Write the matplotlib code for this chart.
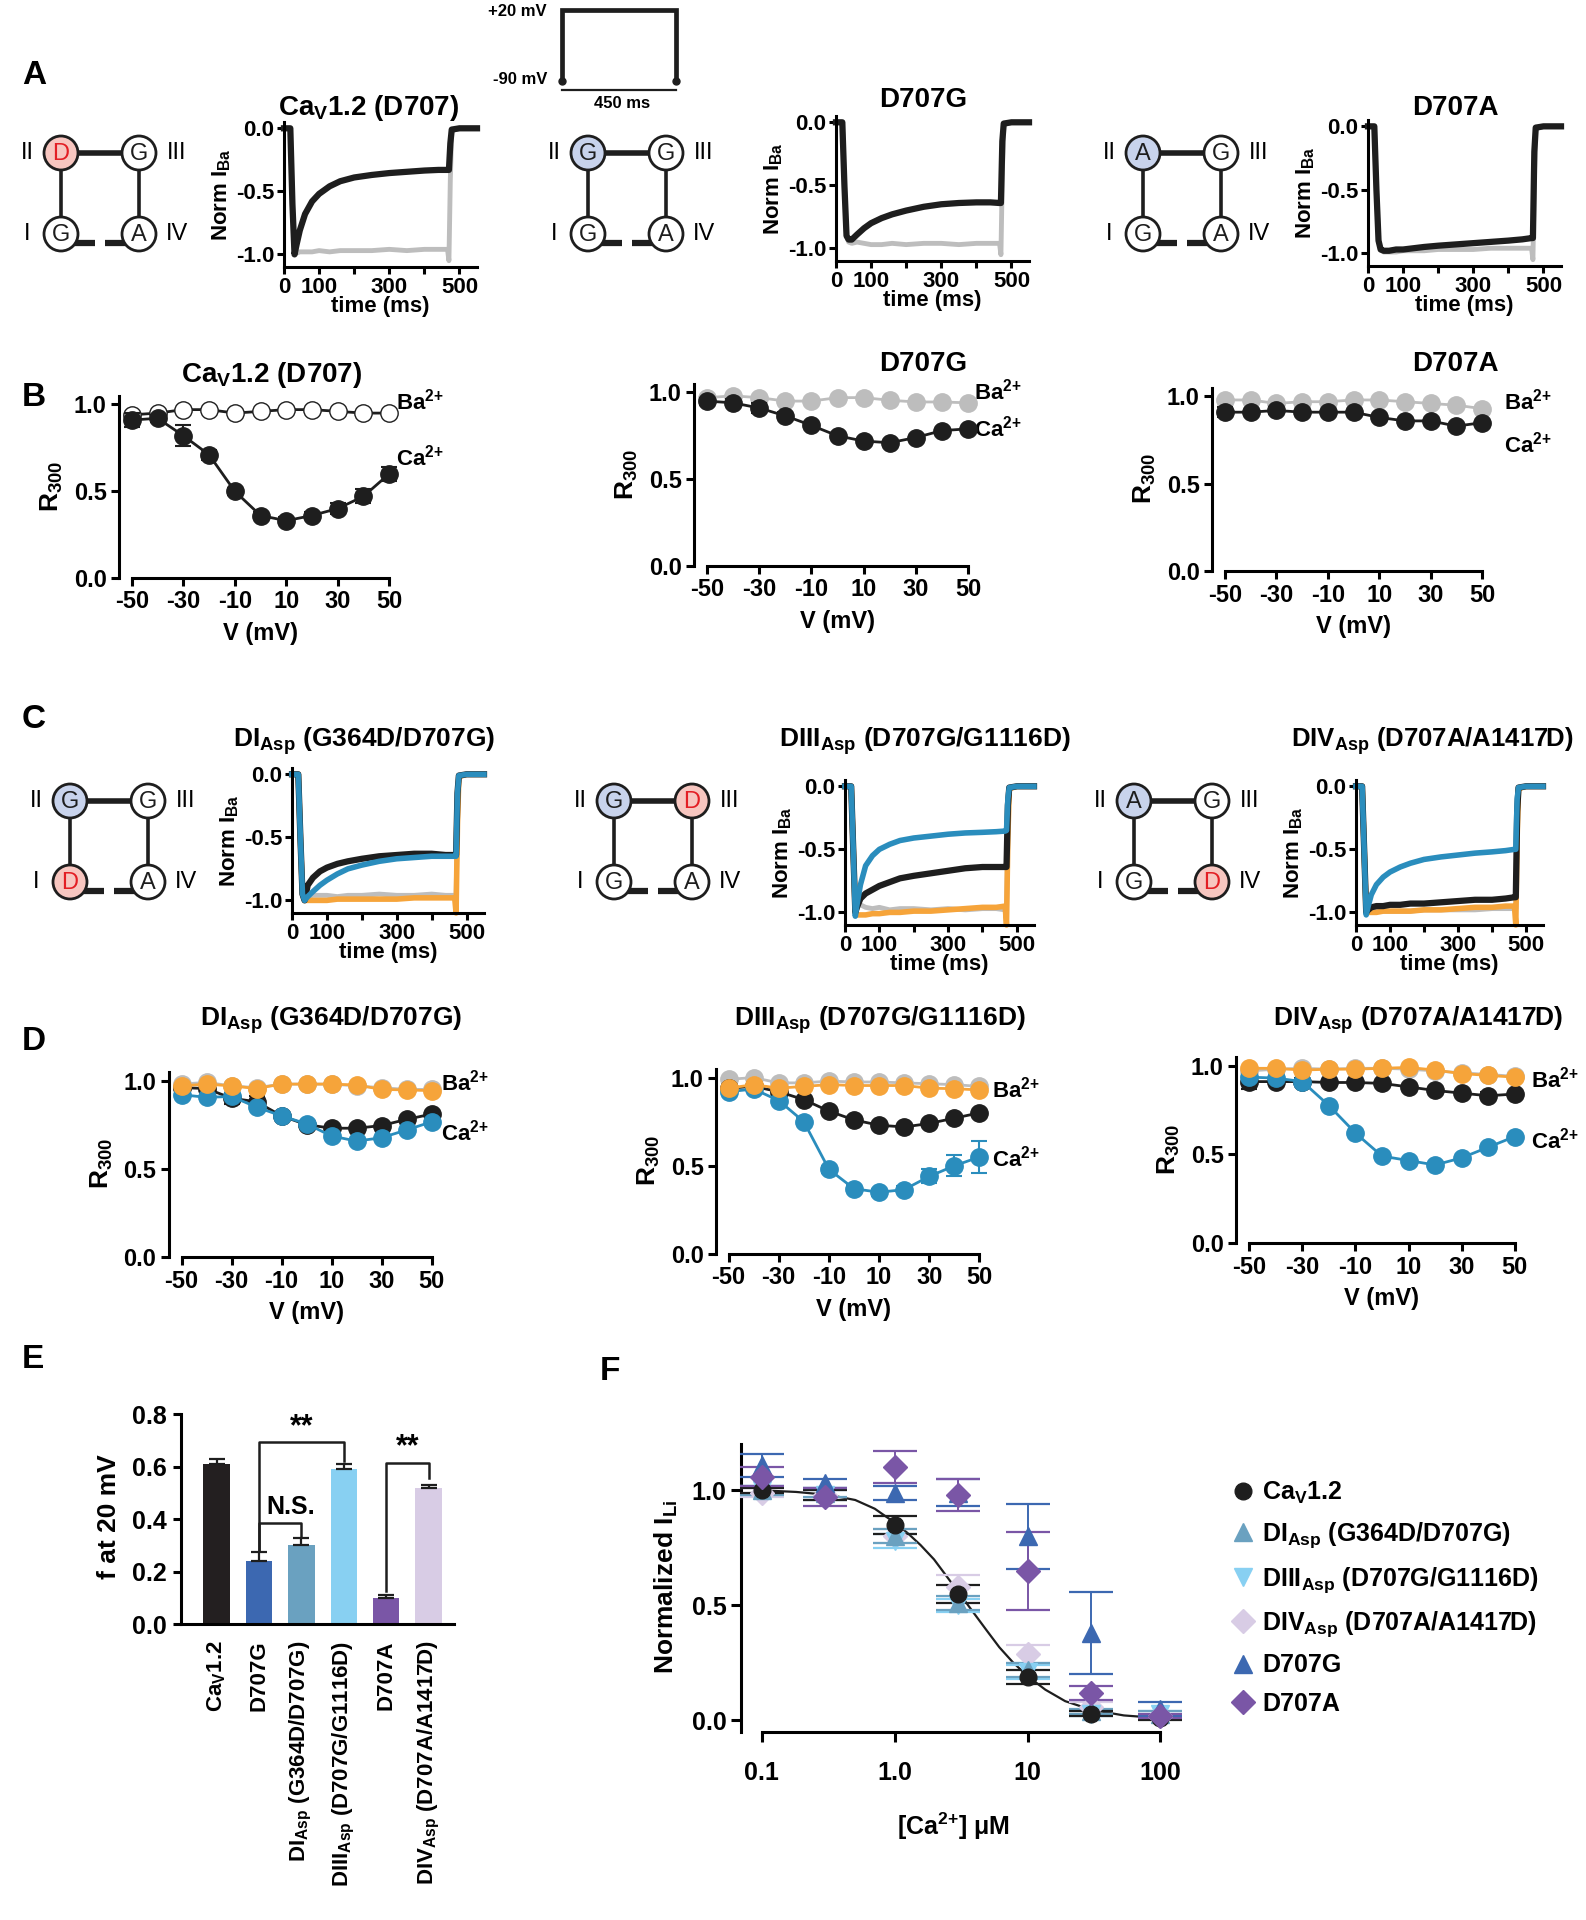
import matplotlib
matplotlib.use("Agg")
import matplotlib.pyplot as plt
from matplotlib.patches import Circle
from matplotlib.lines import Line2D
from matplotlib.ticker import NullLocator

NARROW = ['Liberation Sans Narrow', 'Liberation Sans', 'DejaVu Sans']
WIDE = ['Liberation Sans', 'DejaVu Sans']

plt.rcParams['font.family'] = NARROW
plt.rcParams['font.weight'] = 'bold'
plt.rcParams['axes.labelweight'] = 'bold'
plt.rcParams['mathtext.default'] = 'regular'
plt.rcParams['axes.linewidth'] = 2.2
plt.rcParams['xtick.major.width'] = 2.2
plt.rcParams['ytick.major.width'] = 2.2

BLACK = '#1e1e1e'
GREY = '#bdbdbd'
ORANGE = '#f6a43a'
TEAL = '#2a8dbd'
PINK = '#f7c6c0'
LILAC = '#c8d3ec'
RED = '#e31e24'

BA = r'Ba$^{2{+}}$'
CA = r'Ca$^{2{+}}$'

# ---------------- current traces (panels A and C) ----------------
t_ms = [0, 18, 24, 30, 36, 45, 60, 80, 100, 130, 160, 200, 250, 300, 350,
        400, 440, 466, 470, 474, 478, 500, 550]

a_wt_ca = [0, 0, -0.6, -1.0, -0.92, -0.81, -0.68, -0.58, -0.52, -0.46, -0.42, -0.39,
           -0.37, -0.355, -0.345, -0.335, -0.33, -0.33, -0.33, -0.12, -0.01, 0, 0]
a_wt_ba = [0, 0, -0.6, -1.0, -0.99, -0.98, -0.98, -0.98, -0.97, -0.98, -0.97, -0.97,
           -0.97, -0.96, -0.97, -0.96, -0.96, -0.96, -1.05, -0.4, -0.02, 0, 0]
a_g_ca = [0, 0, -0.5, -0.9, -0.93, -0.93, -0.89, -0.84, -0.80, -0.76, -0.73, -0.70,
          -0.67, -0.65, -0.64, -0.635, -0.635, -0.64, -0.64, -0.15, -0.01, 0, 0]
a_g_ba = [0, 0, -0.5, -0.9, -0.95, -0.96, -0.95, -0.96, -0.97, -0.97, -0.96, -0.97,
          -0.96, -0.96, -0.97, -0.96, -0.96, -0.96, -1.05, -0.4, -0.02, 0, 0]
a_a_ca = [0, 0, -0.5, -0.9, -0.97, -0.98, -0.98, -0.97, -0.97, -0.96, -0.95, -0.94,
          -0.93, -0.92, -0.91, -0.90, -0.89, -0.88, -0.88, -0.2, -0.01, 0, 0]
a_a_ba = [0, 0, -0.5, -0.9, -0.97, -0.99, -0.99, -0.99, -0.98, -0.98, -0.98, -0.97,
          -0.97, -0.97, -0.96, -0.96, -0.96, -0.96, -1.05, -0.4, -0.02, 0, 0]

c1_ref_ca = [0, 0, -0.5, -0.95, -1.0, -0.88, -0.82, -0.77, -0.74, -0.71, -0.69, -0.67,
             -0.65, -0.64, -0.63, -0.63, -0.64, -0.64, -0.64, -0.15, -0.01, 0, 0]
c1_mut_ca = [0, 0, -0.5, -0.95, -1.0, -0.97, -0.93, -0.88, -0.84, -0.79, -0.75, -0.72,
             -0.69, -0.67, -0.66, -0.65, -0.65, -0.65, -0.65, -0.15, -0.01, 0, 0]
c1_ref_ba = [0, 0, -0.5, -0.95, -0.99, -0.97, -0.96, -0.96, -0.96, -0.97, -0.96, -0.96,
             -0.95, -0.96, -0.96, -0.95, -0.96, -0.96, -0.96, -0.4, -0.02, 0, 0]
c1_mut_ba = [0, 0, -0.5, -0.95, -1.0, -1.0, -1.0, -1.0, -1.0, -0.99, -0.99, -0.99,
             -0.99, -0.99, -0.98, -0.98, -0.98, -0.98, -1.1, -0.4, -0.02, 0, 0]

c2_ref_ca = [0, 0, -0.5, -1.0, -0.95, -0.89, -0.85, -0.82, -0.79, -0.76, -0.73, -0.71,
             -0.69, -0.67, -0.65, -0.64, -0.64, -0.64, -0.64, -0.15, -0.01, 0, 0]
c2_mut_ca = [0, 0, -0.5, -1.03, -0.92, -0.78, -0.63, -0.55, -0.50, -0.46, -0.43, -0.41,
             -0.395, -0.38, -0.37, -0.365, -0.36, -0.355, -0.35, -0.1, -0.01, 0, 0]
c2_ref_ba = [0, 0, -0.5, -0.98, -0.95, -0.94, -0.96, -0.97, -0.96, -0.98, -0.97, -0.97,
             -0.98, -0.97, -0.98, -0.97, -0.97, -0.98, -0.98, -0.4, -0.02, 0, 0]
c2_mut_ba = [0, 0, -0.5, -1.0, -1.02, -1.02, -1.02, -1.01, -1.01, -1.0, -1.0, -0.99,
             -0.99, -0.98, -0.97, -0.96, -0.96, -0.95, -1.1, -0.4, -0.02, 0, 0]

c3_ref_ca = [0, 0, -0.5, -1.0, -0.98, -0.96, -0.95, -0.95, -0.94, -0.94, -0.93, -0.93,
             -0.92, -0.91, -0.90, -0.90, -0.89, -0.88, -0.88, -0.2, -0.01, 0, 0]
c3_mut_ca = [0, 0, -0.5, -1.02, -0.95, -0.86, -0.78, -0.72, -0.68, -0.64, -0.61, -0.58,
             -0.56, -0.545, -0.53, -0.52, -0.51, -0.50, -0.50, -0.1, -0.01, 0, 0]
c3_ref_ba = [0, 0, -0.5, -1.0, -1.0, -1.0, -0.99, -0.99, -0.99, -0.99, -0.99, -0.98,
             -0.98, -0.98, -0.98, -0.97, -0.97, -0.97, -0.97, -0.4, -0.02, 0, 0]
c3_mut_ba = [0, 0, -0.5, -1.0, -1.0, -1.0, -1.0, -0.99, -0.99, -0.99, -0.99, -0.98,
             -0.98, -0.97, -0.96, -0.96, -0.95, -0.95, -1.1, -0.4, -0.02, 0, 0]

protocol_t = [0, 0, 450, 450]
protocol_mv = [-90, 20, 20, -90]

# ---------------- R300 vs voltage (panels B and D) ----------------
v_mv = [-50, -40, -30, -20, -10, 0, 10, 20, 30, 40, 50]

b_wt_ba = [0.94, 0.95, 0.97, 0.97, 0.95, 0.96, 0.97, 0.97, 0.96, 0.95, 0.95]
b_wt_ca = [0.91, 0.92, 0.82, 0.71, 0.50, 0.36, 0.33, 0.36, 0.40, 0.47, 0.60]
b_wt_ca_err = [0.04, 0.02, 0.06, 0.03, 0.02, 0.02, 0.02, 0.02, 0.03, 0.04, 0.04]
b_g_ba = [0.97, 0.98, 0.97, 0.95, 0.95, 0.97, 0.97, 0.955, 0.945, 0.945, 0.94]
b_g_ca = [0.95, 0.94, 0.91, 0.865, 0.81, 0.75, 0.72, 0.71, 0.74, 0.78, 0.79]
b_g_ca_err = [0.02, 0.02, 0.03, 0.02, 0.01, 0.01, 0.01, 0.01, 0.01, 0.01, 0.01]
b_a_ba = [0.98, 0.98, 0.96, 0.97, 0.97, 0.98, 0.98, 0.97, 0.96, 0.95, 0.93]
b_a_ca = [0.91, 0.91, 0.92, 0.91, 0.91, 0.91, 0.88, 0.86, 0.86, 0.83, 0.85]
b_a_ca_err = [0.03, 0.01, 0.02, 0.01, 0.01, 0.01, 0.01, 0.01, 0.01, 0.01, 0.01]

d1_ref_ba = [0.98, 0.99, 0.97, 0.96, 0.98, 0.98, 0.98, 0.97, 0.96, 0.95, 0.95]
d1_mut_ba = [0.97, 0.98, 0.97, 0.955, 0.98, 0.98, 0.98, 0.975, 0.95, 0.947, 0.943]
d1_ref_ca = [0.96, 0.955, 0.90, 0.88, 0.80, 0.75, 0.73, 0.73, 0.745, 0.78, 0.81]
d1_mut_ca = [0.92, 0.905, 0.91, 0.85, 0.80, 0.755, 0.686, 0.657, 0.676, 0.72, 0.766]
d1_ref_ca_err = [0.01, 0.01, 0.03, 0.03, 0.01, 0.01, 0.01, 0.01, 0.01, 0.01, 0.01]

d2_ref_ba = [0.99, 1.0, 0.97, 0.97, 0.98, 0.975, 0.975, 0.97, 0.965, 0.96, 0.95]
d2_mut_ba = [0.94, 0.96, 0.94, 0.95, 0.96, 0.955, 0.955, 0.955, 0.94, 0.937, 0.93]
d2_ref_ca = [0.94, 0.95, 0.92, 0.875, 0.81, 0.76, 0.73, 0.72, 0.74, 0.77, 0.80]
d2_mut_ca = [0.92, 0.935, 0.87, 0.75, 0.48, 0.37, 0.35, 0.365, 0.44, 0.50, 0.55]
d2_mut_ca_err = [0.01, 0.01, 0.02, 0.02, 0.02, 0.02, 0.02, 0.02, 0.04, 0.06, 0.09]

d3_ref_ba = [0.97, 0.98, 0.985, 0.98, 0.985, 0.985, 0.98, 0.97, 0.96, 0.95, 0.94]
d3_mut_ba = [0.985, 0.985, 0.975, 0.98, 0.98, 0.985, 0.99, 0.975, 0.955, 0.945, 0.935]
d3_ref_ca = [0.91, 0.91, 0.91, 0.905, 0.905, 0.90, 0.88, 0.86, 0.845, 0.83, 0.84]
d3_mut_ca = [0.935, 0.93, 0.91, 0.775, 0.62, 0.49, 0.465, 0.44, 0.48, 0.54, 0.60]
d3_ref_ca_err = [0.04, 0.02, 0.02, 0.01, 0.01, 0.01, 0.01, 0.01, 0.01, 0.02, 0.01]

# ---------------- panel E ----------------
e_labels = [r'Ca$_V$1.2', 'D707G', r'DI$_{Asp}$ (G364D/D707G)',
            r'DIII$_{Asp}$ (D707G/G1116D)', 'D707A', r'DIV$_{Asp}$ (D707A/A1417D)']
e_values = [0.61, 0.24, 0.30, 0.59, 0.10, 0.52]
e_errors = [0.02, 0.034, 0.027, 0.02, 0.01, 0.01]
e_colors = ['#231f20', '#3c68b1', '#6aa1c0', '#88d0f2', '#7a56a6', '#d8cce5']

# ---------------- panel F ----------------
f_conc = [0.1, 0.3, 1, 3, 10, 30, 100]
f_wt = [1.00, 0.98, 0.85, 0.55, 0.19, 0.03, 0.01]
f_wt_err = [0.01, 0.02, 0.04, 0.04, 0.03, 0.01, 0.01]
f_di = [1.00, 0.99, 0.80, 0.51, 0.22, 0.04, 0.03]
f_di_err = [0.02, 0.02, 0.03, 0.03, 0.03, 0.01, 0.01]
f_diii = [1.00, 0.98, 0.78, 0.50, 0.21, 0.03, 0.03]
f_diii_err = [0.02, 0.02, 0.03, 0.03, 0.03, 0.01, 0.01]
f_div = [0.99, 0.98, 0.80, 0.58, 0.29, 0.06, 0.02]
f_div_err = [0.02, 0.02, 0.03, 0.05, 0.04, 0.02, 0.01]
f_d707g = [1.11, 1.03, 0.99, 0.99, 0.80, 0.38, 0.05]
f_d707g_err = [0.05, 0.02, 0.03, 0.06, 0.14, 0.18, 0.03]
f_d707a = [1.06, 0.97, 1.10, 0.98, 0.65, 0.12, 0.02]
f_d707a_err = [0.04, 0.04, 0.07, 0.07, 0.17, 0.03, 0.01]
fit_conc = [0.1, 0.182, 0.321, 0.506, 0.71, 1.0, 1.25, 1.57, 1.98, 2.49, 3.11, 3.92,
            4.89, 6.14, 7.7, 10, 13.6, 19.2, 30, 53, 100]
fit_norm = [1.0, 0.993, 0.98, 0.958, 0.92, 0.86, 0.815, 0.762, 0.70, 0.623, 0.548,
            0.469, 0.394, 0.318, 0.255, 0.193, 0.134, 0.084, 0.047, 0.022, 0.01]

# ---------------- figure ----------------
W, H = 1586, 1920
fig = plt.figure(figsize=(W / 100, H / 100), dpi=100)

ov = fig.add_axes([0, 0, 1, 1])
ov.set_xlim(0, W)
ov.set_ylim(H, 0)
ov.axis('off')


def px_axes(x0, y0, x1, y1):
    ax = fig.add_axes([x0 / W, 1 - y1 / H, (x1 - x0) / W, (y1 - y0) / H])
    ax.patch.set_alpha(0)
    ax.spines['top'].set_visible(False)
    ax.spines['right'].set_visible(False)
    return ax


def domain_diagram(cx, cy, letters, fills, dx=78, dy=81, r=17):
    ov.plot([cx, cx + dx], [cy, cy], color=BLACK, lw=4, zorder=1)
    ov.plot([cx, cx], [cy, cy + dy], color=BLACK, lw=2.6, zorder=1)
    ov.plot([cx + dx, cx + dx], [cy, cy + dy], color=BLACK, lw=2.6, zorder=1)
    ov.plot([cx + 8, cx + 34], [cy + dy + 9] * 2, color=BLACK, lw=4.5,
            solid_capstyle='butt', zorder=1)
    ov.plot([cx + dx - 34, cx + dx - 8], [cy + dy + 9] * 2, color=BLACK, lw=4.5,
            solid_capstyle='butt', zorder=1)
    spots = [(cx, cy), (cx + dx, cy), (cx, cy + dy), (cx + dx, cy + dy)]
    for (x, y), let, fill in zip(spots, letters, fills):
        fc = {'red': PINK, 'blue': LILAC}.get(fill, 'white')
        ov.add_patch(Circle((x, y), r, fc=fc, ec=BLACK, lw=2, zorder=2))
        ov.text(x, y + 1, let, ha='center', va='center', fontsize=17, fontweight='normal',
                family=WIDE, color=RED if fill == 'red' else BLACK, zorder=3)
    for (x, y), s in zip([(cx - 34, cy), (cx + dx + 38, cy), (cx - 34, cy + dy),
                          (cx + dx + 38, cy + dy)], ['II', 'III', 'I', 'IV']):
        ov.text(x, y, s, ha='center', va='center', fontsize=17, fontweight='normal')


def trace_panel(box, series):
    ax = px_axes(*box)
    for vals, col, lw in series:
        ax.plot(t_ms, vals, color=col, lw=lw, solid_joinstyle='round', clip_on=False)
    ax.set_xlim(0, 550)
    ax.set_ylim(-1.1, 0.05)
    ax.set_xticks([0, 100, 200, 300, 400, 500])
    ax.set_xticklabels(['0', '100', '', '300', '', '500'])
    ax.set_yticks([0, -0.5, -1.0])
    ax.set_yticklabels(['0.0', '-0.5', '-1.0'])
    ax.tick_params(labelsize=16, length=5, pad=2)
    ax.set_xlabel('time (ms)', fontsize=16, labelpad=-1)
    ax.set_ylabel(r'Norm I$_{Ba}$', fontsize=16, family=WIDE, labelpad=2)
    return ax


def iv_panel(box, series):
    ax = px_axes(*box)
    for vals, err, col, mfc, z in series:
        ax.errorbar(v_mv, vals, yerr=err, color=col, mfc=mfc, mec=col, marker='o', ms=12.5,
                    lw=2, capsize=6, elinewidth=1.5, capthick=1.5, clip_on=False, zorder=z)
    ax.set_xlim(-55, 55)
    ax.set_ylim(0, 1.06)
    ax.spines['bottom'].set_bounds(-50, 50)
    ax.spines['left'].set_bounds(0, 1.05)
    ax.set_xticks([-50, -30, -10, 10, 30, 50])
    ax.set_xticklabels(['-50', '-30', '-10', '10', '30', '50'])
    ax.set_yticks([0, 0.5, 1.0])
    ax.set_yticklabels(['0.0', '0.5', '1.0'])
    ax.tick_params(labelsize=17, length=6, pad=3)
    ax.set_xlabel('V (mV)', fontsize=17, labelpad=6)
    ax.set_ylabel(r'R$_{300}$', fontsize=19, family=WIDE, labelpad=6)
    return ax


# panel letters
for s, x, y in [('A', 22, 76), ('B', 22, 398), ('C', 22, 719), ('D', 22, 1041),
                ('E', 22, 1359), ('F', 600, 1372)]:
    ov.text(x, y, s, fontsize=24, family=WIDE, ha='left', va='center')

# ---- A ----
domain_diagram(61, 153, ['D', 'G', 'G', 'A'], ['red', None, None, None])
domain_diagram(588, 153, ['G', 'G', 'G', 'A'], ['blue', None, None, None])
domain_diagram(1143, 153, ['A', 'G', 'G', 'A'], ['blue', None, None, None])

trace_panel((284, 122, 477, 267), [(a_wt_ba, GREY, 3.5), (a_wt_ca, BLACK, 4.5)])
trace_panel((836, 116, 1029, 261), [(a_g_ba, GREY, 3.5), (a_g_ca, BLACK, 4.5)])
trace_panel((1368, 120, 1561, 266), [(a_a_ba, GREY, 3.5), (a_a_ca, BLACK, 4.5)])
ov.text(369, 108, r'Ca$_V$1.2 (D707)', fontsize=20, ha='center', va='center')
ov.text(923, 100, 'D707G', fontsize=20, ha='center', va='center')
ov.text(1455, 108, 'D707A', fontsize=20, ha='center', va='center')

axp = px_axes(557, 3, 681, 107)
axp.plot(protocol_t, protocol_mv, color=BLACK, lw=3.4, marker='o', ms=5, markevery=[0, 3],
         solid_joinstyle='miter', clip_on=False)
axp.plot([0, 450], [-104, -104], color=BLACK, lw=1.6)
axp.set_xlim(-20, 470)
axp.set_ylim(-130, 30)
axp.axis('off')
ov.text(547, 11, '+20 mV', fontsize=12, ha='right', va='center')
ov.text(547, 80, '-90 mV', fontsize=12, ha='right', va='center')
ov.text(622, 103, '450 ms', fontsize=12, ha='center', va='center')

# ---- B ----
iv_panel((119, 394, 402, 578), [(b_wt_ba, None, BLACK, 'white', 3),
                                (b_wt_ca, b_wt_ca_err, BLACK, BLACK, 4)])
iv_panel((694, 382, 981, 566), [(b_g_ba, None, GREY, GREY, 3),
                                (b_g_ca, b_g_ca_err, BLACK, BLACK, 4)])
iv_panel((1212, 386, 1495, 571), [(b_a_ba, None, GREY, GREY, 3),
                                  (b_a_ca, b_a_ca_err, BLACK, BLACK, 4)])
ov.text(272, 375, r'Ca$_V$1.2 (D707)', fontsize=20, ha='center', va='center')
ov.text(923, 364, 'D707G', fontsize=20, ha='center', va='center')
ov.text(1455, 364, 'D707A', fontsize=20, ha='center', va='center')
for x, yb, yc in [(396, 402, 458), (974, 392, 429), (1504, 402, 445)]:
    ov.text(x, yb, BA, fontsize=16, ha='left', va='center')
    ov.text(x, yc, CA, fontsize=16, ha='left', va='center')

# ---- C ----
domain_diagram(70, 801, ['G', 'G', 'D', 'A'], ['blue', None, 'red', None])
domain_diagram(614, 801, ['G', 'D', 'G', 'A'], ['blue', 'red', None, None])
domain_diagram(1134, 801, ['A', 'G', 'G', 'D'], ['blue', None, None, 'red'])

trace_panel((292, 768, 484, 913), [(c1_ref_ba, GREY, 3.5), (c1_mut_ba, ORANGE, 4),
                                   (c1_ref_ca, BLACK, 4.5), (c1_mut_ca, TEAL, 4)])
trace_panel((845, 780, 1034, 925), [(c2_ref_ba, GREY, 3.5), (c2_mut_ba, ORANGE, 4),
                                    (c2_ref_ca, BLACK, 4.5), (c2_mut_ca, TEAL, 4)])
trace_panel((1356, 780, 1543, 925), [(c3_ref_ba, GREY, 3.5), (c3_mut_ba, ORANGE, 4),
                                     (c3_ref_ca, BLACK, 4.5), (c3_mut_ca, TEAL, 4)])
ov.text(364, 741, r'DI$_{Asp}$ (G364D/D707G)', fontsize=19, ha='center', va='center')
ov.text(925, 741, r'DIII$_{Asp}$ (D707G/G1116D)', fontsize=19, ha='center', va='center')
ov.text(1432, 741, r'DIV$_{Asp}$ (D707A/A1417D)', fontsize=18.5, ha='center', va='center')

# ---- D ----
iv_panel((169, 1070, 444, 1257), [(d1_ref_ba, None, GREY, GREY, 2),
                                  (d1_ref_ca, d1_ref_ca_err, BLACK, BLACK, 3),
                                  (d1_mut_ca, None, TEAL, TEAL, 4),
                                  (d1_mut_ba, None, ORANGE, ORANGE, 5)])
iv_panel((716, 1067, 992, 1254), [(d2_ref_ba, None, GREY, GREY, 2),
                                  (d2_ref_ca, None, BLACK, BLACK, 3),
                                  (d2_mut_ca, d2_mut_ca_err, TEAL, TEAL, 4),
                                  (d2_mut_ba, None, ORANGE, ORANGE, 5)])
iv_panel((1236, 1055, 1528, 1243), [(d3_ref_ba, None, GREY, GREY, 2),
                                    (d3_ref_ca, d3_ref_ca_err, BLACK, BLACK, 3),
                                    (d3_mut_ca, None, TEAL, TEAL, 4),
                                    (d3_mut_ba, None, ORANGE, ORANGE, 5)])
ov.text(331, 1020, r'DI$_{Asp}$ (G364D/D707G)', fontsize=19, ha='center', va='center')
ov.text(880, 1020, r'DIII$_{Asp}$ (D707G/G1116D)', fontsize=19, ha='center', va='center')
ov.text(1418, 1020, r'DIV$_{Asp}$ (D707A/A1417D)', fontsize=19, ha='center', va='center')
for x, yb, yc in [(441, 1083, 1133), (992, 1090, 1159), (1531, 1080, 1141)]:
    ov.text(x, yb, BA, fontsize=16, ha='left', va='center')
    ov.text(x, yc, CA, fontsize=16, ha='left', va='center')

# ---- E ----
axe = px_axes(181, 1409, 454, 1624)
xpos = list(range(len(e_values)))
axe.bar(xpos, e_values, width=0.62, color=e_colors,
        yerr=[[0] * len(e_errors), e_errors], capsize=6,
        error_kw=dict(elinewidth=1.6, capthick=1.6, ecolor=BLACK))
axe.set_xlim(-0.84, 5.6)
axe.set_ylim(0, 0.82)
axe.spines['left'].set_bounds(0, 0.8)
axe.set_yticks([0, 0.2, 0.4, 0.6, 0.8])
axe.set_yticklabels(['0.0', '0.2', '0.4', '0.6', '0.8'], family=WIDE)
axe.set_xticks(xpos)
axe.set_xticklabels(e_labels, rotation=90, family=WIDE, ha='center', va='top')
axe.tick_params(axis='x', length=0, pad=12, labelsize=16)
axe.tick_params(axis='y', length=6, labelsize=18, pad=4)
axe.set_ylabel('f at 20 mV', fontsize=19, family=WIDE, labelpad=8)
# significance brackets
axe.plot([1, 1, 3, 3], [0.28, 0.693, 0.693, 0.62], color=BLACK, lw=1.8)
axe.text(2, 0.695, '**', ha='center', va='bottom', fontsize=22, family=WIDE)
axe.plot([1, 1, 2, 2], [0.28, 0.385, 0.385, 0.335], color=BLACK, lw=1.8)
axe.text(1.75, 0.40, 'N.S.', ha='center', va='bottom', fontsize=18, family=WIDE)
axe.plot([4, 4, 5, 5], [0.126, 0.615, 0.615, 0.556], color=BLACK, lw=1.8)
axe.text(4.5, 0.617, '**', ha='center', va='bottom', fontsize=22, family=WIDE)

# ---- F ----
axf = px_axes(741, 1442, 1166, 1732)
axf.set_xscale('log')
axf.plot(fit_conc, fit_norm, color=BLACK, lw=1.6, zorder=2)
f_series = [
    (f_div, f_div_err, '#d8cce5', 'D', 12, r'DIV$_{Asp}$ (D707A/A1417D)'),
    (f_diii, f_diii_err, '#88d0f2', 'v', 13, r'DIII$_{Asp}$ (D707G/G1116D)'),
    (f_di, f_di_err, '#6aa1c0', '^', 13, r'DI$_{Asp}$ (G364D/D707G)'),
    (f_wt, f_wt_err, BLACK, 'o', 12, r'Ca$_V$1.2'),
    (f_d707g, f_d707g_err, '#3c68b1', '^', 13, 'D707G'),
    (f_d707a, f_d707a_err, '#7a56a6', 'D', 12, 'D707A'),
]
handles = {}
for vals, err, col, mk, ms, lab in f_series:
    axf.errorbar(f_conc, vals, yerr=err, fmt=mk, color=col, ms=ms, capsize=16,
                 elinewidth=1.4, capthick=1.6, clip_on=False, zorder=3)
    handles[lab] = Line2D([], [], marker=mk, color=col, ls='none', ms=ms)
axf.set_xlim(0.07, 110)
axf.set_ylim(-0.05, 1.21)
axf.spines['bottom'].set_bounds(0.1, 100)
axf.spines['left'].set_bounds(-0.05, 1.2)
axf.set_xticks([0.1, 1, 10, 100])
axf.set_xticklabels(['0.1', '1.0', '10', '100'])
axf.xaxis.set_minor_locator(NullLocator())
axf.set_yticks([0, 0.5, 1.0])
axf.set_yticklabels(['0.0', '0.5', '1.0'])
axf.tick_params(labelsize=18, length=7)
axf.tick_params(axis='x', pad=14)
axf.set_xlabel(r'[Ca$^{2{+}}$] μM', fontsize=18, labelpad=18)
axf.set_ylabel(r'Normalized I$_{Li}$', fontsize=19, family=WIDE, labelpad=8)

order = [r'Ca$_V$1.2', r'DI$_{Asp}$ (G364D/D707G)', r'DIII$_{Asp}$ (D707G/G1116D)',
         r'DIV$_{Asp}$ (D707A/A1417D)', 'D707G', 'D707A']
fig.legend([handles[k] for k in order], order, loc='upper left',
           bbox_to_anchor=(1230 / W, 1 - 1480 / H), frameon=False, fontsize=18,
           handletextpad=0.3, labelspacing=0.58, handlelength=1.0, borderaxespad=0,
           borderpad=0)

fig.savefig('out.png', dpi=100, facecolor='white')
